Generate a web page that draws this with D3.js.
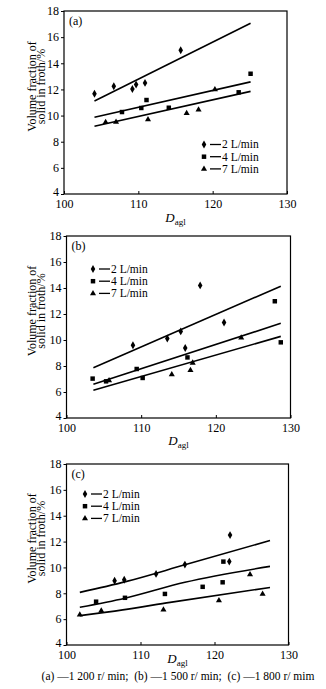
<!DOCTYPE html>
<html>
<head>
<meta charset="utf-8">
<script src="https://cdn.jsdelivr.net/npm/d3@7"></script>
<style>
  html, body { margin: 0; padding: 0; background: #fff; }
  svg { display: block; font-family: "Liberation Serif", "Times New Roman", serif; }
</style>
</head>
<body>
<svg id="chart" width="326" height="689"></svg>
<script>
// ---------- data ----------
const xTicks = [100, 110, 120, 130];
const yTicks = [4, 6, 8, 10, 12, 14, 16, 18];
const seriesNames = ["2 L/min", "4 L/min", "7 L/min"];
const panelLabels = ["(a)", "(b)", "(c)"];
const yLabelLines = ["Volume fraction of", "solid in froth/%"];
const caption = "(a) \u20141 200 r/ min;  (b) \u20141 500 r/ min;  (c) \u20141 800 r/ mim";

// panel (a) -1200 r/min
const a2 = [[104.1, 11.67], [106.7, 12.24], [109.2, 12.03], [109.7, 12.37], [110.9, 12.5], [115.7, 15.0]];
const a4 = [[107.8, 10.27], [110.4, 10.58], [111.1, 11.19], [114.1, 10.6], [123.5, 11.78], [125.1, 13.2]];
const a7 = [[105.6, 9.49], [107.0, 9.51], [111.3, 9.7], [116.5, 10.17], [118.1, 10.45], [120.3, 12.0]];
const aFit2 = [[104.1, 11.12], [125.1, 17.06]];
const aFit4 = [[104.1, 9.87], [125.1, 12.58]];
const aFit7 = [[104.1, 9.18], [125.1, 11.85]];

// panel (b) -1500 r/min
const b2 = [[108.9, 9.6], [113.5, 10.12], [115.3, 10.66], [115.9, 9.38], [117.9, 14.2], [121.1, 11.35]];
const b4 = [[103.5, 7.03], [105.3, 6.82], [109.4, 7.77], [110.2, 7.08], [116.2, 8.66], [127.9, 12.98], [128.7, 9.82]];
const b7 = [[105.7, 6.88], [114.1, 7.34], [116.6, 7.68], [116.9, 8.24], [123.4, 10.18]];
const bFit2 = [[103.6, 7.86], [128.7, 14.14]];
const bFit4 = [[103.6, 6.59], [128.7, 11.28]];
const bFit7 = [[103.6, 6.13], [128.7, 10.28]];

// panel (c) -1800 r/min
const c2 = [[106.5, 8.97], [107.8, 9.05], [112.1, 9.5], [116.0, 10.22], [122.1, 12.5], [122.0, 10.45]];
const c4 = [[104.0, 7.35], [107.9, 7.65], [113.3, 7.95], [118.4, 8.5], [121.1, 8.85], [121.2, 10.45]];
const c7 = [[101.8, 6.34], [104.7, 6.65], [113.1, 6.72], [120.6, 7.45], [124.8, 9.45], [126.5, 7.95]];
const cFit2 = [[101.8, 8.07], [108.0, 8.9], [116.0, 10.2], [127.5, 12.08]];
const cFit4 = [[101.8, 6.92], [107.9, 7.62], [116.0, 8.85], [127.5, 10.08]];
const cFit7 = [[101.8, 6.27], [107.6, 6.72], [114.0, 7.3], [127.5, 8.45]];

// ---------- drawing ----------
const svg = d3.select("#chart");
const symbols = [d3.symbolDiamond, d3.symbolSquare, d3.symbolTriangle];
const symSizes = [18, 20, 16];

const panels = [
  { label: panelLabels[0], pts: [a2, a4, a7], fits: [aFit2, aFit4, aFit7],
    box: { l: 64, r: 287, t: 11, b: 194 }, legend: { x: 204, y: 144.5 }, curve: false, dOff: 28 },
  { label: panelLabels[1], pts: [b2, b4, b7], fits: [bFit2, bFit4, bFit7],
    box: { l: 66.5, r: 290.5, t: 236, b: 418 }, legend: { x: 93, y: 269 }, curve: false, dOff: 27 },
  { label: panelLabels[2], pts: [c2, c4, c7], fits: [cFit2, cFit4, cFit7],
    box: { l: 66.5, r: 288.5, t: 464, b: 645 }, legend: { x: 85, y: 494 }, curve: true, dOff: 18 }
];

panels.forEach(p => {
  const { l, r, t, b } = p.box;
  const x = d3.scaleLinear().domain([100, 130]).range([l, r]);
  const y = d3.scaleLinear().domain([4, 18]).range([b, t]);
  const g = svg.append("g");

  // frame
  g.append("rect").attr("x", l).attr("y", t).attr("width", r - l).attr("height", b - t)
    .attr("fill", "none").attr("stroke", "#000").attr("stroke-width", 1.2);

  // y axis
  const ya = g.append("g").attr("transform", `translate(${l},0)`)
    .call(d3.axisLeft(y).tickValues(yTicks).tickSize(3).tickPadding(2).tickFormat(d3.format("d")));
  ya.select(".domain").remove();
  ya.selectAll("line").attr("stroke", "#000");
  ya.selectAll("text").attr("font-size", 12).attr("font-family", "Liberation Serif").attr("fill", "#000")
    .attr("dy", d => d === 4 ? "0.1em" : "0.32em");

  // x axis (ticks inward)
  const xa = g.append("g").attr("transform", `translate(0,${b})`)
    .call(d3.axisBottom(x).tickValues(xTicks).tickSizeInner(-3).tickSizeOuter(0).tickPadding(5).tickFormat(d3.format("d")));
  xa.select(".domain").remove();
  xa.selectAll("line").attr("stroke", "#000");
  xa.selectAll("text").attr("font-size", 12).attr("font-family", "Liberation Serif").attr("fill", "#000");

  // y label
  const cy = (t + b) / 2 - 16;
  yLabelLines.forEach((s, i) => {
    g.append("text")
      .attr("transform", `translate(${36 + i * 9},${cy}) rotate(-90)`)
      .attr("text-anchor", "middle").attr("font-size", 12).attr("fill", "#000").text(s);
  });

  // x label D_agl
  const xl = g.append("text").attr("x", (l + r) / 2).attr("y", b + p.dOff)
    .attr("text-anchor", "middle").attr("fill", "#000");
  xl.append("tspan").attr("font-style", "italic").attr("font-size", 13).text("D");
  xl.append("tspan").attr("font-size", 9).attr("dy", 2.5).text("agl");

  // panel label
  g.append("text").attr("x", l + 5).attr("y", t + 14).attr("font-size", 12).attr("fill", "#000").text(p.label);

  // fit lines
  const line = d3.line().x(d => x(d[0])).y(d => y(d[1]))
    .curve(p.curve ? d3.curveMonotoneX : d3.curveLinear);
  p.fits.forEach(f => {
    g.append("path").attr("d", line(f)).attr("fill", "none").attr("stroke", "#000").attr("stroke-width", 1.6);
  });

  // points
  p.pts.forEach((arr, si) => {
    g.selectAll(null).data(arr).enter().append("path")
      .attr("transform", d => `translate(${x(d[0])},${y(d[1])})`)
      .attr("d", d3.symbol().type(symbols[si]).size(symSizes[si]))
      .attr("fill", "#000");
  });

  // legend
  seriesNames.forEach((name, i) => {
    const ly = p.legend.y + i * 12.2;
    g.append("path").attr("transform", `translate(${p.legend.x},${ly})`)
      .attr("d", d3.symbol().type(symbols[i]).size(symSizes[i])).attr("fill", "#000");
    g.append("line").attr("x1", p.legend.x + 6).attr("x2", p.legend.x + 17)
      .attr("y1", ly).attr("y2", ly).attr("stroke", "#000").attr("stroke-width", 1.3);
    g.append("text").attr("x", p.legend.x + 18).attr("y", ly + 3.8)
      .attr("font-size", 11.5).attr("fill", "#000").text(name);
  });
});

// caption
svg.append("text").attr("x", 178).attr("y", 680).attr("text-anchor", "middle")
  .attr("font-size", 11.5).attr("fill", "#000").attr("xml:space", "preserve").text(caption);
</script>
</body>
</html>
